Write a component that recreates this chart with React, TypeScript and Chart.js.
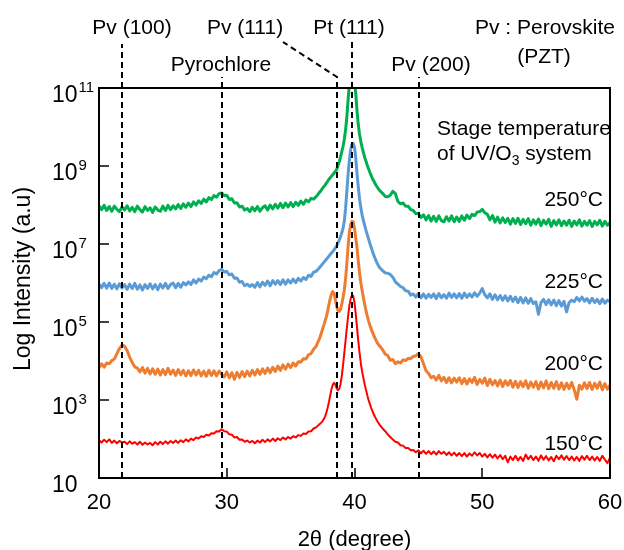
import React, { useEffect, useRef } from 'react';
import { Chart, registerables } from 'chart.js';

Chart.register(...registerables);

// 2θ sampling (degrees)
const angleLow = [
  20.0, 20.2, 20.4, 20.6, 20.8, 21.0, 21.2, 21.4, 21.6, 21.8,
  22.0, 22.2, 22.4, 22.6, 22.8, 23.0, 23.2, 23.4, 23.6, 23.8,
  24.0, 24.2, 24.4, 24.6, 24.8, 25.0, 25.2, 25.4, 25.6, 25.8,
  26.0, 26.2, 26.4, 26.6, 26.8, 27.0, 27.2, 27.4, 27.6, 27.8,
  28.0, 28.2, 28.4, 28.6, 28.8, 29.0, 29.2, 29.4, 29.6, 29.8,
  30.0, 30.2, 30.4, 30.6, 30.8, 31.0, 31.2, 31.4, 31.6, 31.8,
  32.0, 32.2, 32.4, 32.6, 32.8, 33.0, 33.2, 33.4, 33.6, 33.8,
  34.0, 34.2, 34.4, 34.6, 34.8, 35.0, 35.2, 35.4, 35.6, 35.8,
  36.0, 36.2, 36.4, 36.6, 36.8, 37.0,
];
const angleMid = [
  37.1, 37.2, 37.3, 37.4, 37.5, 37.6, 37.7, 37.8, 37.9, 38.0,
  38.1, 38.2, 38.3, 38.4, 38.5, 38.6, 38.7, 38.8, 38.9, 39.0,
  39.1, 39.2, 39.3, 39.4, 39.5, 39.6, 39.7, 39.8, 39.9, 40.0,
  40.1, 40.2, 40.3, 40.4, 40.5, 40.6, 40.7, 40.8, 40.9, 41.0,
  41.1, 41.2, 41.3, 41.4, 41.5, 41.6, 41.7, 41.8, 41.9, 42.0,
];
const angleHigh = [
  42.2, 42.4, 42.6, 42.8, 43.0, 43.2, 43.4, 43.6, 43.8, 44.0,
  44.2, 44.4, 44.6, 44.8, 45.0, 45.2, 45.4, 45.6, 45.8, 46.0,
  46.2, 46.4, 46.6, 46.8, 47.0, 47.2, 47.4, 47.6, 47.8, 48.0,
  48.2, 48.4, 48.6, 48.8, 49.0, 49.2, 49.4, 49.6, 49.8, 50.0,
  50.2, 50.4, 50.6, 50.8, 51.0, 51.2, 51.4, 51.6, 51.8, 52.0,
  52.2, 52.4, 52.6, 52.8, 53.0, 53.2, 53.4, 53.6, 53.8, 54.0,
  54.2, 54.4, 54.6, 54.8, 55.0, 55.2, 55.4, 55.6, 55.8, 56.0,
  56.2, 56.4, 56.6, 56.8, 57.0, 57.2, 57.4, 57.6, 57.8, 58.0,
  58.2, 58.4, 58.6, 58.8, 59.0, 59.2, 59.4, 59.6, 59.8, 60.0,
];

// log10(intensity) — 250 °C
const log250Low = [
  7.98, 7.88, 7.99, 7.86, 7.96, 7.84, 7.97, 7.89, 7.83, 7.95,
  7.87, 7.98, 7.85, 7.94, 7.83, 7.97, 7.88, 7.82, 7.96, 7.86,
  7.93, 7.81, 7.95, 7.87, 7.84, 7.97, 7.86, 7.99, 7.88, 7.98,
  7.90, 8.01, 7.91, 8.03, 7.94, 8.05, 7.96, 8.08, 8.00, 8.11,
  8.04, 8.15, 8.08, 8.19, 8.14, 8.24, 8.20, 8.29, 8.31, 8.24,
  8.25, 8.14, 8.16, 8.05, 8.06, 7.95, 7.97, 7.87, 7.91, 7.83,
  7.94, 7.85, 7.96, 7.84, 7.93, 7.98, 7.87, 8.00, 7.90, 8.02,
  7.92, 8.04, 7.93, 8.05, 7.95, 8.06, 7.96, 8.07, 7.99, 8.10,
  8.02, 8.13, 8.08, 8.17, 8.15, 8.22,
];
const log250Mid = [
  8.25, 8.30, 8.34, 8.38, 8.43, 8.47, 8.51, 8.56, 8.61, 8.66,
  8.70, 8.74, 8.78, 8.82, 8.86, 8.91, 9.00, 9.10, 9.22, 9.36,
  9.50, 9.68, 9.92, 10.25, 10.70, 11.10, 11.30, 11.40, 11.40, 11.20,
  10.85, 10.40, 10.05, 9.80, 9.62, 9.47, 9.34, 9.22, 9.12, 9.02,
  8.93, 8.84, 8.76, 8.68, 8.62, 8.56, 8.50, 8.45, 8.40, 8.36,
];
const log250High = [
  8.30, 8.22, 8.21, 8.25, 8.35, 8.29, 8.09, 8.03, 8.05, 7.97,
  7.97, 7.88, 7.86, 7.78, 7.78, 7.68, 7.75, 7.62, 7.73, 7.59,
  7.71, 7.58, 7.72, 7.60, 7.57, 7.70, 7.59, 7.72, 7.57, 7.69,
  7.58, 7.72, 7.61, 7.74, 7.65, 7.76, 7.73, 7.82, 7.83, 7.89,
  7.80, 7.76, 7.62, 7.73, 7.56, 7.69, 7.54, 7.67, 7.55, 7.66,
  7.51, 7.65, 7.53, 7.66, 7.50, 7.63, 7.52, 7.65, 7.48, 7.62,
  7.51, 7.64, 7.47, 7.61, 7.51, 7.63, 7.45, 7.60, 7.49, 7.62,
  7.47, 7.59, 7.48, 7.61, 7.45, 7.59, 7.49, 7.62, 7.46, 7.58,
  7.48, 7.60, 7.45, 7.58, 7.49, 7.61, 7.46, 7.58, 7.48, 7.55,
];

// log10(intensity) — 225 °C
const log225Low = [
  5.98, 5.88, 5.99, 5.87, 6.00, 5.86, 5.97, 5.85, 5.98, 5.87,
  5.96, 5.84, 5.97, 5.86, 5.99, 5.84, 5.95, 5.82, 5.96, 5.86,
  5.98, 5.85, 5.96, 5.83, 5.97, 5.87, 5.99, 5.86, 5.96, 6.00,
  5.88, 5.99, 5.89, 6.01, 5.95, 6.03, 5.96, 6.08, 6.00, 6.10,
  6.05, 6.15, 6.11, 6.20, 6.16, 6.27, 6.23, 6.32, 6.35, 6.28,
  6.30, 6.21, 6.23, 6.12, 6.13, 6.02, 6.04, 5.93, 5.97, 5.91,
  5.96, 5.89, 6.01, 5.90, 6.02, 5.94, 6.05, 5.93, 6.06, 5.97,
  6.06, 5.96, 6.08, 5.97, 6.08, 6.00, 6.10, 6.01, 6.12, 6.05,
  6.14, 6.09, 6.20, 6.17, 6.28, 6.30,
];
const log225Mid = [
  6.34, 6.37, 6.41, 6.45, 6.49, 6.53, 6.57, 6.61, 6.65, 6.69,
  6.73, 6.77, 6.81, 6.85, 6.90, 6.95, 7.02, 7.10, 7.18, 7.28,
  7.40, 7.58, 7.90, 8.35, 8.80, 9.15, 9.42, 9.56, 9.58, 9.48,
  9.20, 8.80, 8.45, 8.15, 7.92, 7.74, 7.60, 7.47, 7.35, 7.24,
  7.13, 7.02, 6.92, 6.82, 6.72, 6.64, 6.56, 6.49, 6.43, 6.38,
];
const log225High = [
  6.32, 6.26, 6.25, 6.22, 6.15, 6.03, 5.97, 5.91, 5.88, 5.80,
  5.79, 5.69, 5.72, 5.64, 5.73, 5.62, 5.72, 5.61, 5.71, 5.63,
  5.72, 5.60, 5.73, 5.62, 5.70, 5.61, 5.74, 5.63, 5.72, 5.62,
  5.73, 5.61, 5.74, 5.63, 5.72, 5.64, 5.75, 5.66, 5.74, 5.86,
  5.70, 5.62, 5.72, 5.58, 5.70, 5.57, 5.68, 5.56, 5.67, 5.54,
  5.66, 5.53, 5.64, 5.50, 5.63, 5.49, 5.62, 5.48, 5.60, 5.47,
  5.52, 5.20, 5.50, 5.58, 5.45, 5.57, 5.44, 5.56, 5.42, 5.55,
  5.41, 5.53, 5.26, 5.50, 5.56, 5.52, 5.63, 5.54, 5.64, 5.53,
  5.60, 5.49, 5.61, 5.50, 5.58, 5.47, 5.59, 5.48, 5.56, 5.52,
];

// log10(intensity) — 200 °C
const log200Low = [
  3.82, 3.93, 3.84, 3.95, 3.93, 4.01, 4.05, 4.19, 4.32, 4.41,
  4.38, 4.27, 4.10, 3.96, 3.85, 3.82, 3.72, 3.83, 3.69, 3.81,
  3.67, 3.80, 3.66, 3.79, 3.64, 3.78, 3.65, 3.81, 3.66, 3.77,
  3.63, 3.78, 3.65, 3.76, 3.62, 3.75, 3.63, 3.77, 3.64, 3.76,
  3.62, 3.74, 3.61, 3.76, 3.63, 3.75, 3.62, 3.74, 3.66, 3.59,
  3.72, 3.57, 3.70, 3.53, 3.71, 3.58, 3.73, 3.60, 3.74, 3.62,
  3.76, 3.64, 3.78, 3.66, 3.80, 3.68, 3.82, 3.70, 3.84, 3.73,
  3.87, 3.76, 3.90, 3.79, 3.92, 3.83, 3.95, 3.87, 3.98, 3.97,
  4.06, 4.05, 4.16, 4.19, 4.30, 4.38,
];
const log200Mid = [
  4.46, 4.53, 4.61, 4.71, 4.82, 4.92, 5.03, 5.14, 5.28, 5.45,
  5.60, 5.72, 5.78, 5.74, 5.58, 5.40, 5.30, 5.27, 5.32, 5.45,
  5.62, 5.82, 6.10, 6.50, 6.95, 7.30, 7.50, 7.58, 7.57, 7.40,
  7.15, 6.90, 6.55, 6.25, 6.00, 5.80, 5.62, 5.45, 5.29, 5.15,
  5.03, 4.92, 4.83, 4.74, 4.66, 4.59, 4.52, 4.46, 4.41, 4.37,
];
const log200High = [
  4.29, 4.18, 4.14, 4.02, 4.04, 3.93, 3.98, 3.95, 4.03, 4.01,
  4.07, 4.06, 4.12, 4.13, 4.19, 4.11, 3.93, 3.75, 3.68, 3.57,
  3.61, 3.51, 3.63, 3.49, 3.58, 3.45, 3.57, 3.44, 3.56, 3.46,
  3.57, 3.42, 3.55, 3.41, 3.54, 3.45, 3.58, 3.40, 3.53, 3.43,
  3.56, 3.37, 3.53, 3.39, 3.50, 3.36, 3.51, 3.35, 3.49, 3.38,
  3.50, 3.33, 3.48, 3.32, 3.47, 3.34, 3.49, 3.30, 3.46, 3.33,
  3.47, 3.28, 3.46, 3.31, 3.49, 3.29, 3.45, 3.30, 3.47, 3.28,
  3.44, 3.27, 3.43, 3.29, 3.45, 3.26, 3.02, 3.38, 3.28, 3.44,
  3.29, 3.45, 3.27, 3.43, 3.30, 3.46, 3.26, 3.42, 3.28, 3.38,
];

// log10(intensity) — 150 °C
const log150Low = [
  1.97, 1.91, 1.98, 1.92, 1.99, 1.90, 1.96, 1.89, 1.95, 1.91,
  1.93, 1.87, 1.94, 1.88, 1.92, 1.86, 1.93, 1.85, 1.91, 1.86,
  1.90, 1.84, 1.92, 1.86, 1.93, 1.87, 1.94, 1.88, 1.95, 1.90,
  1.96, 1.90, 1.97, 1.92, 1.99, 1.94, 2.01, 1.97, 2.04, 2.01,
  2.07, 2.05, 2.11, 2.09, 2.15, 2.14, 2.20, 2.19, 2.25, 2.20,
  2.19, 2.12, 2.11, 2.04, 2.05, 1.98, 1.99, 1.93, 1.96, 1.91,
  1.95, 1.89, 1.96, 1.91, 1.98, 1.92, 1.99, 1.94, 2.01, 1.95,
  2.02, 1.97, 2.04, 1.99, 2.05, 2.01, 2.07, 2.04, 2.10, 2.08,
  2.14, 2.13, 2.19, 2.20, 2.27, 2.30,
];
const log150Mid = [
  2.33, 2.36, 2.39, 2.42, 2.46, 2.51, 2.58, 2.68, 2.80, 2.95,
  3.12, 3.28, 3.39, 3.44, 3.40, 3.30, 3.25, 3.28, 3.40, 3.60,
  3.88, 4.20, 4.52, 4.85, 5.15, 5.42, 5.60, 5.68, 5.67, 5.50,
  5.20, 4.85, 4.50, 4.20, 3.93, 3.72, 3.56, 3.40, 3.26, 3.12,
  3.00, 2.90, 2.80, 2.72, 2.64, 2.57, 2.51, 2.45, 2.40, 2.35,
];
const log150High = [
  2.27, 2.20, 2.12, 2.05, 1.99, 1.93, 1.91, 1.84, 1.83, 1.77,
  1.77, 1.71, 1.72, 1.66, 1.71, 1.63, 1.70, 1.62, 1.69, 1.61,
  1.68, 1.60, 1.69, 1.62, 1.67, 1.59, 1.66, 1.58, 1.65, 1.57,
  1.64, 1.56, 1.64, 1.55, 1.63, 1.57, 1.66, 1.58, 1.64, 1.55,
  1.62, 1.53, 1.61, 1.52, 1.60, 1.50, 1.59, 1.48, 1.57, 1.40,
  1.55, 1.46, 1.57, 1.45, 1.54, 1.44, 1.60, 1.48, 1.57, 1.46,
  1.55, 1.44, 1.58, 1.47, 1.56, 1.45, 1.54, 1.43, 1.57, 1.48,
  1.58, 1.47, 1.56, 1.46, 1.55, 1.45, 1.54, 1.44, 1.56, 1.47,
  1.57, 1.46, 1.55, 1.45, 1.54, 1.44, 1.57, 1.47, 1.38, 1.52,
];

const seriesNames = ['250°C', '225°C', '200°C', '150°C'];
const seriesColors = ['#00B050', '#5B9BD5', '#ED7D31', '#FF0000'];
const xTicks = [20, 30, 40, 50, 60];
const yTickExponents = [1, 3, 5, 7, 9, 11];
// reference peak positions (2θ)
const guideAngles = [21.8, 29.6, 38.6, 39.8, 45.05];
const guideNames = ['Pv (100)', 'Pyrochlore', 'Pv (111)', 'Pt (111)', 'Pv (200)'];

const twoTheta = [...angleLow, ...angleMid, ...angleHigh];
const logSeries = [
  [...log250Low, ...log250Mid, ...log250High],
  [...log225Low, ...log225Mid, ...log225High],
  [...log200Low, ...log200Mid, ...log200High],
  [...log150Low, ...log150Mid, ...log150High],
];

const FONT = '"Liberation Sans", Arial, Helvetica, sans-serif';

const decorPlugin = {
  id: 'decor',
  afterDatasetsDraw(chart: any) {
    const { ctx, chartArea: a, scales } = chart;
    const xs = scales.x;
    const ys = scales.y;
    ctx.save();
    ctx.strokeStyle = '#000';
    ctx.lineWidth = 2;
    ctx.setLineDash([6, 4]);
    const tops = [44, 77, 77, 42, 77];
    guideAngles.forEach((ang, i) => {
      const px = Math.round(xs.getPixelForValue(ang));
      ctx.beginPath();
      ctx.moveTo(px, a.bottom);
      ctx.lineTo(px, tops[i]);
      if (guideNames[i] === 'Pv (111)') {
        ctx.lineTo(283, 42);
      }
      ctx.stroke();
    });
    ctx.setLineDash([]);
    ctx.lineWidth = 2;
    ctx.strokeRect(a.left, a.top, a.right - a.left, a.bottom - a.top);
    ctx.lineWidth = 1.5;
    yTickExponents.forEach((e) => {
      const py = Math.round(ys.getPixelForValue(Math.pow(10, e)));
      ctx.beginPath();
      ctx.moveTo(a.left, py);
      ctx.lineTo(a.left + 10, py);
      ctx.stroke();
    });
    xTicks.forEach((v) => {
      const px = Math.round(xs.getPixelForValue(v));
      ctx.beginPath();
      ctx.moveTo(px, a.bottom);
      ctx.lineTo(px, a.bottom - 10);
      ctx.stroke();
    });
    ctx.restore();
  },
  afterDraw(chart: any) {
    const { ctx, chartArea: a, scales } = chart;
    const xs = scales.x;
    const ys = scales.y;
    ctx.save();
    ctx.fillStyle = '#000';
    ctx.textBaseline = 'alphabetic';
    ctx.font = `22px ${FONT}`;
    ctx.textAlign = 'center';
    xTicks.forEach((v) => {
      ctx.fillText(String(v), xs.getPixelForValue(v), 509);
    });
    ctx.fillText('2θ (degree)', (a.left + a.right) / 2, 546);
    ctx.textAlign = 'left';
    yTickExponents.forEach((e) => {
      const py = ys.getPixelForValue(Math.pow(10, e));
      ctx.font = `23px ${FONT}`;
      ctx.fillText('10', 52, py + 14);
      const w = ctx.measureText('10').width;
      if (e !== 1) {
        ctx.font = `15px ${FONT}`;
        ctx.fillText(String(e), 52 + w + 1, py + 4);
      }
    });
    ctx.save();
    ctx.translate(30, 279);
    ctx.rotate(-Math.PI / 2);
    ctx.textAlign = 'center';
    ctx.font = `23px ${FONT}`;
    ctx.fillText('Log Intensity (a.u)', 0, 0);
    ctx.restore();
    ctx.font = `21px ${FONT}`;
    ctx.textAlign = 'center';
    ctx.fillText(guideNames[0], 132, 34);
    ctx.fillText(guideNames[2], 245, 34);
    ctx.fillText(guideNames[3], 349, 34);
    ctx.fillText('Pv : Perovskite', 545, 34);
    ctx.fillText(guideNames[1], 221, 71);
    ctx.fillText(guideNames[4], 431, 71);
    ctx.fillText('(PZT)', 544, 63);
    ctx.textAlign = 'left';
    ctx.fillText('Stage temperature', 437, 135);
    let xx = 437;
    const p1 = 'of UV/O';
    ctx.fillText(p1, xx, 160);
    xx += ctx.measureText(p1).width;
    ctx.font = `14px ${FONT}`;
    ctx.fillText('3', xx, 165);
    xx += ctx.measureText('3').width;
    ctx.font = `21px ${FONT}`;
    ctx.fillText(' system', xx, 160);
    ctx.textAlign = 'right';
    const labelY = [206, 288, 370, 450];
    seriesNames.forEach((n, i) => ctx.fillText(n, 603, labelY[i]));
    ctx.restore();
  },
};

export default function App() {
  const ref = useRef<HTMLCanvasElement>(null);
  useEffect(() => {
    if (!ref.current) return;
    const chart = new Chart(ref.current, {
      type: 'line',
      data: {
        datasets: logSeries.map((s, i) => ({
          label: seriesNames[i],
          data: twoTheta.map((t, k) => ({ x: t, y: Math.pow(10, s[k]) })),
          borderColor: seriesColors[i],
          borderWidth: i === 3 ? 2 : 3,
          pointRadius: 0,
          tension: 0,
          borderJoinStyle: 'round' as const,
          fill: false,
        })),
      },
      options: {
        responsive: false,
        animation: false,
        layout: { padding: { left: 99, right: 14, top: 88, bottom: 72 } },
        scales: {
          x: { type: 'linear', min: 20, max: 60, display: false },
          y: { type: 'logarithmic', min: 10, max: 1e11, display: false },
        },
        plugins: { legend: { display: false }, tooltip: { enabled: false } },
      },
      plugins: [decorPlugin],
    });
    return () => chart.destroy();
  }, []);
  return (
    <div style={{ position: 'fixed', left: 0, top: 0, width: 624, height: 550, background: '#fff' }}>
      <canvas ref={ref} width={624} height={550} style={{ display: 'block', width: 624, height: 550 }} />
    </div>
  );
}
